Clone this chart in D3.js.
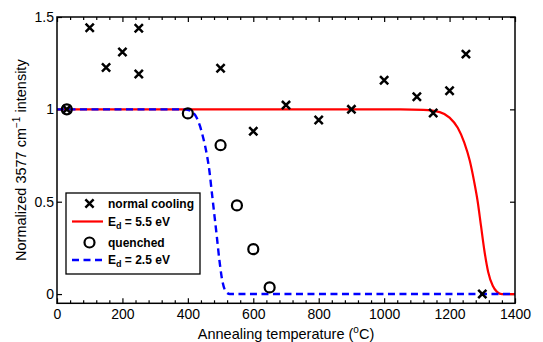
<!DOCTYPE html>
<html>
<head>
<meta charset="utf-8">
<script src="https://cdn.jsdelivr.net/npm/d3@7"></script>
<style>
  html, body { margin: 0; padding: 0; background: #fff; }
  svg { display: block; font-family: "Liberation Sans", Arial, Helvetica, sans-serif; }
</style>
</head>
<body>
<svg id="chart" width="543" height="342"></svg>
<script>
// Measured points: normal cooling (crosses)
const coolingTemps  = [30, 100, 150, 200, 250, 250, 500, 600, 700, 800, 900, 1000, 1100, 1150, 1200, 1250, 1300];
const coolingValues = [1.0, 1.442, 1.227, 1.311, 1.439, 1.191, 1.223, 0.881, 1.023, 0.942, 1.0, 1.158, 1.068, 0.98, 1.101, 1.299, 0.0];

// Measured points: quenched (circles)
const quenchedTemps  = [30, 400, 500, 550, 600, 650];
const quenchedValues = [1.0, 0.978, 0.806, 0.48, 0.243, 0.036];

// Model curve, Ed = 5.5 eV
const fit55Temps  = [0, 1050, 1120, 1170, 1200, 1225, 1245, 1262, 1275, 1286, 1296, 1306, 1318, 1332, 1345, 1360, 1400];
const fit55Values = [1, 1, 0.997, 0.985, 0.955, 0.9, 0.82, 0.72, 0.61, 0.5, 0.37, 0.24, 0.12, 0.045, 0.012, 0, 0];

// Model curve, Ed = 2.5 eV
const fit25Temps  = [0, 380, 405, 422, 437, 447, 458, 466, 473, 480, 488, 496, 504, 514, 528, 1400];
const fit25Values = [1, 1, 0.995, 0.97, 0.91, 0.845, 0.755, 0.665, 0.555, 0.445, 0.32, 0.19, 0.085, 0.02, 0, 0];

// Axis ticks
const xMajorTicks = [0, 200, 400, 600, 800, 1000, 1200, 1400];
const xMinorTicks = d3.range(0, 1401, 40).filter(v => v % 200 !== 0);
const yMajorTicks = [0, 0.5, 1, 1.5];
const yTickLabels = ["0", "0.5", "1", "1.5"];

const svg = d3.select("#chart");
svg.append("rect").attr("width", 543).attr("height", 342).attr("fill", "#fff");

const plotLeft = 57, plotRight = 515, plotTop = 17, plotBottom = 303.3;
const x = d3.scaleLinear().domain([0, 1400]).range([plotLeft, plotRight]);
const y = d3.scaleLinear().domain([-0.05, 1.5]).range([plotBottom, plotTop]);

const tickFont = 14;

// Bottom axis (major with labels, minor without)
svg.append("g").attr("transform", `translate(0,${plotBottom})`)
  .call(d3.axisBottom(x).tickValues(xMajorTicks).tickSize(-5).tickPadding(6).tickFormat(d3.format("d")));
svg.append("g").attr("transform", `translate(0,${plotBottom})`)
  .call(d3.axisBottom(x).tickValues(xMinorTicks).tickSize(-3).tickFormat(""));
// Top axis ticks
svg.append("g").attr("transform", `translate(0,${plotTop})`)
  .call(d3.axisTop(x).tickValues(xMajorTicks).tickSize(-5).tickFormat(""));
svg.append("g").attr("transform", `translate(0,${plotTop})`)
  .call(d3.axisTop(x).tickValues(xMinorTicks).tickSize(-3).tickFormat(""));
// Left axis
svg.append("g").attr("transform", `translate(${plotLeft},0)`)
  .call(d3.axisLeft(y).tickValues(yMajorTicks).tickSize(-5).tickPadding(3)
    .tickFormat((d, i) => yTickLabels[i]));
// Right axis ticks
svg.append("g").attr("transform", `translate(${plotRight},0)`)
  .call(d3.axisRight(y).tickValues(yMajorTicks).tickSize(-5).tickFormat(""));

svg.selectAll(".domain").remove();
svg.selectAll(".tick line").attr("stroke", "#000").attr("stroke-width", 1.2);
svg.selectAll(".tick text").attr("font-size", tickFont).attr("fill", "#000")
  .attr("font-family", "Liberation Sans, Arial, sans-serif");

// Plot clip
svg.append("clipPath").attr("id", "plotClip")
  .append("rect").attr("x", plotLeft).attr("y", plotTop)
  .attr("width", plotRight - plotLeft).attr("height", plotBottom - plotTop);

const plot = svg.append("g").attr("clip-path", "url(#plotClip)");

const line = d3.line().x(d => x(d[0])).y(d => y(d[1])).curve(d3.curveMonotoneX);

plot.append("path")
  .datum(d3.zip(fit55Temps, fit55Values))
  .attr("d", line)
  .attr("fill", "none").attr("stroke", "#ff0000").attr("stroke-width", 2.2);

plot.append("path")
  .datum(d3.zip(fit25Temps, fit25Values))
  .attr("d", line)
  .attr("fill", "none").attr("stroke", "#0000ff").attr("stroke-width", 2.4)
  .attr("stroke-dasharray", "7,4.5");

// Markers
function crossPath(cx, cy, s) {
  return `M${cx - s},${cy - s}L${cx + s},${cy + s}M${cx - s},${cy + s}L${cx + s},${cy - s}`;
}

plot.selectAll("path.cross")
  .data(d3.zip(coolingTemps, coolingValues))
  .join("path").attr("class", "cross")
  .attr("d", d => crossPath(x(d[0]), y(d[1]), 4.1))
  .attr("stroke", "#000").attr("stroke-width", 2.5).attr("fill", "none");

plot.selectAll("circle.q")
  .data(d3.zip(quenchedTemps, quenchedValues))
  .join("circle").attr("class", "q")
  .attr("cx", d => x(d[0])).attr("cy", d => y(d[1])).attr("r", 5)
  .attr("stroke", "#000").attr("stroke-width", 2.2).attr("fill", "none");

// Frame
svg.append("rect")
  .attr("x", plotLeft).attr("y", plotTop)
  .attr("width", plotRight - plotLeft).attr("height", plotBottom - plotTop)
  .attr("fill", "none").attr("stroke", "#000").attr("stroke-width", 1.5);

// Axis titles
const xTitle = svg.append("text")
  .attr("x", (plotLeft + plotRight) / 2).attr("y", 339)
  .attr("text-anchor", "middle").attr("font-size", 14.5).attr("fill", "#000");
xTitle.append("tspan").text("Annealing temperature (");
xTitle.append("tspan").attr("font-size", 10).attr("dy", -6).text("o");
xTitle.append("tspan").attr("dy", 6).text("C)");

const yTitle = svg.append("text")
  .attr("transform", `translate(26,${(plotTop + plotBottom) / 2}) rotate(-90)`)
  .attr("text-anchor", "middle").attr("font-size", 14.5).attr("fill", "#000");
yTitle.append("tspan").text("Normalized 3577 cm");
yTitle.append("tspan").attr("font-size", 10).attr("dy", -6).text("\u22121");
yTitle.append("tspan").attr("dy", 6).text(" intensity");

// Legend
const lg = svg.append("g");
lg.append("rect").attr("x", 66).attr("y", 193).attr("width", 134).attr("height", 81)
  .attr("fill", "#fff").attr("stroke", "#000").attr("stroke-width", 1.3);

const legendRows = [
  { y: 203.5, kind: "cross", label: "normal cooling" },
  { y: 221.5, kind: "solid", label: "E", sub: "d", rest: " = 5.5 eV" },
  { y: 242.5, kind: "circle", label: "quenched" },
  { y: 260, kind: "dash", label: "E", sub: "d", rest: " = 2.5 eV" }
];

legendRows.forEach(r => {
  if (r.kind === "cross") {
    lg.append("path").attr("d", crossPath(89.5, r.y, 4.1))
      .attr("stroke", "#000").attr("stroke-width", 2.5).attr("fill", "none");
  } else if (r.kind === "circle") {
    lg.append("circle").attr("cx", 89.5).attr("cy", r.y).attr("r", 5)
      .attr("stroke", "#000").attr("stroke-width", 2.2).attr("fill", "none");
  } else {
    lg.append("line").attr("x1", 72).attr("x2", 103).attr("y1", r.y).attr("y2", r.y)
      .attr("stroke", r.kind === "solid" ? "#ff0000" : "#0000ff")
      .attr("stroke-width", r.kind === "solid" ? 2.2 : 2.4)
      .attr("stroke-dasharray", r.kind === "dash" ? "7,4.5" : null);
  }
  const t = lg.append("text").attr("x", 108).attr("y", r.y + 4.3)
    .attr("font-size", 12).attr("font-weight", "bold").attr("fill", "#000");
  t.append("tspan").text(r.label);
  if (r.sub) {
    t.append("tspan").attr("font-size", 9).attr("dy", 3).text(r.sub);
    t.append("tspan").attr("dy", -3).text(r.rest);
  }
});
</script>
</body>
</html>
